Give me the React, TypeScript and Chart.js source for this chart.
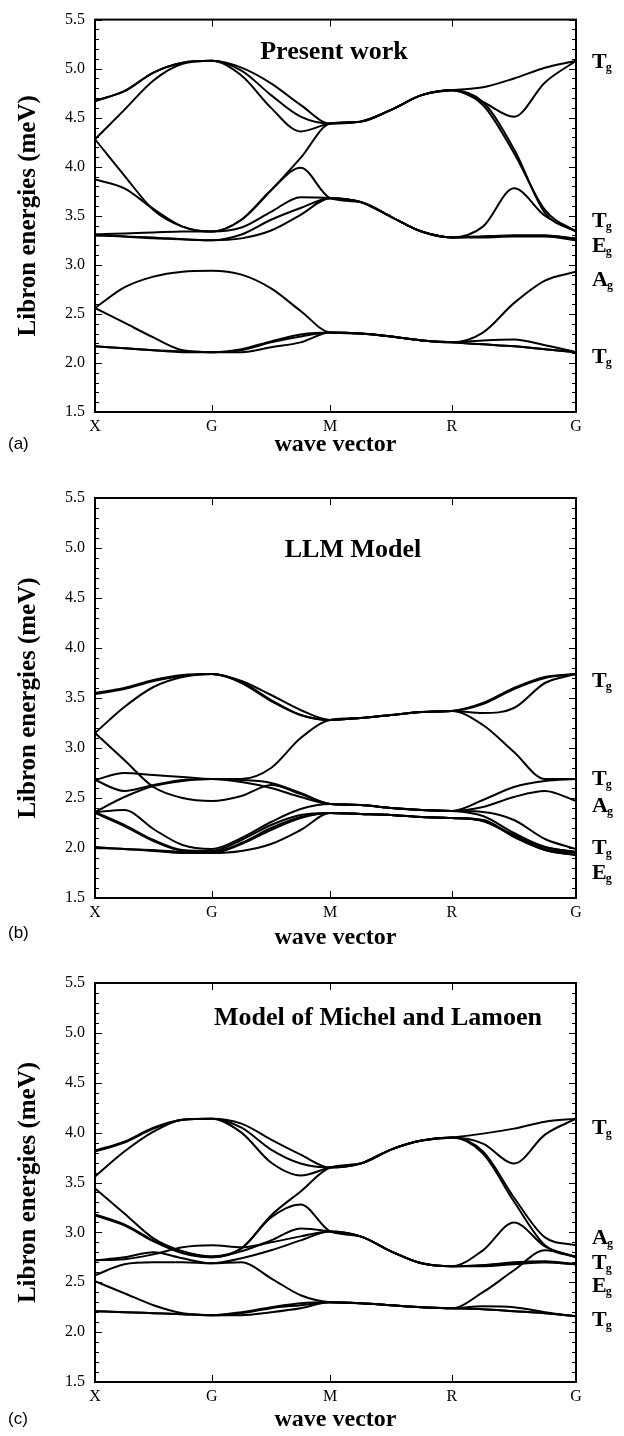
import React, { useEffect, useRef } from 'react';
import { Chart, registerables } from 'chart.js';

Chart.register(...registerables);

// High-symmetry points along the path through the cubic Brillouin zone
const SYMMETRY_POINTS = ['X', 'G', 'M', 'R', 'G'];
const SYMMETRY_POSITIONS = [0, 0.243, 0.489, 0.742, 1];

// Wave-vector sample positions along the path (four steps per segment)
const WAVE_VECTOR = [
  0, 0.061, 0.1215, 0.182, 0.243,
  0.3045, 0.366, 0.4275, 0.489,
  0.552, 0.6155, 0.679, 0.742,
  0.8065, 0.871, 0.9355, 1,
];

const ENERGY_MIN = 1.5;
const ENERGY_MAX = 5.5;

// (a) Present work: libron branches (meV) at the WAVE_VECTOR samples
const PRESENT_WORK = [
  [4.67, 4.77, 4.96, 5.06, 5.08, 5.01, 4.85, 4.63, 4.44, 4.46, 4.58, 4.73, 4.78, 4.81, 4.90, 5.01, 5.08],
  [4.67, 4.77, 4.96, 5.06, 5.08, 4.98, 4.73, 4.51, 4.44, 4.46, 4.58, 4.73, 4.78, 4.66, 4.51, 4.86, 5.08],
  [4.28, 4.58, 4.88, 5.05, 5.08, 4.93, 4.60, 4.36, 4.44, 4.46, 4.58, 4.73, 4.78, 4.63, 4.14, 3.56, 3.34],
  [4.28, 3.91, 3.56, 3.39, 3.34, 3.46, 3.76, 4.09, 4.44, 4.46, 4.58, 4.73, 4.78, 4.66, 4.18, 3.53, 3.34],
  [3.87, 3.78, 3.57, 3.39, 3.34, 3.46, 3.76, 3.99, 3.68, 3.64, 3.49, 3.34, 3.28, 3.39, 3.78, 3.50, 3.34],
  [3.31, 3.32, 3.33, 3.34, 3.34, 3.38, 3.54, 3.69, 3.68, 3.64, 3.49, 3.34, 3.28, 3.29, 3.30, 3.30, 3.27],
  [3.31, 3.29, 3.28, 3.26, 3.25, 3.31, 3.46, 3.58, 3.68, 3.64, 3.49, 3.34, 3.28, 3.29, 3.30, 3.30, 3.26],
  [3.30, 3.29, 3.27, 3.26, 3.25, 3.27, 3.35, 3.51, 3.68, 3.64, 3.49, 3.34, 3.28, 3.28, 3.29, 3.29, 3.25],
  [2.56, 2.77, 2.88, 2.93, 2.94, 2.90, 2.76, 2.53, 2.31, 2.30, 2.27, 2.23, 2.21, 2.31, 2.61, 2.84, 2.93],
  [2.56, 2.41, 2.26, 2.13, 2.11, 2.14, 2.22, 2.29, 2.31, 2.30, 2.27, 2.23, 2.21, 2.23, 2.24, 2.18, 2.11],
  [2.17, 2.15, 2.13, 2.11, 2.11, 2.13, 2.21, 2.27, 2.31, 2.30, 2.27, 2.23, 2.21, 2.19, 2.17, 2.14, 2.11],
  [2.17, 2.15, 2.13, 2.12, 2.11, 2.11, 2.16, 2.21, 2.31, 2.30, 2.27, 2.23, 2.21, 2.19, 2.17, 2.14, 2.11],
];
const PRESENT_MODES = ['T', 'T', 'E', 'A', 'T'];
const PRESENT_MODE_ENERGIES = [5.08, 3.455, 3.205, 2.855, 2.07];

// (b) LLM model
const LLM_MODEL = [
  [3.55, 3.60, 3.68, 3.73, 3.74, 3.67, 3.53, 3.38, 3.28, 3.30, 3.33, 3.36, 3.37, 3.45, 3.60, 3.71, 3.74],
  [3.54, 3.59, 3.67, 3.72, 3.74, 3.66, 3.48, 3.33, 3.28, 3.30, 3.33, 3.36, 3.37, 3.44, 3.59, 3.70, 3.74],
  [3.15, 3.41, 3.61, 3.71, 3.74, 3.65, 3.47, 3.33, 3.28, 3.30, 3.33, 3.36, 3.37, 3.35, 3.40, 3.65, 3.74],
  [2.68, 2.75, 2.73, 2.71, 2.69, 2.69, 2.80, 3.10, 3.28, 3.30, 3.33, 3.36, 3.37, 3.23, 2.96, 2.69, 2.69],
  [2.68, 2.57, 2.63, 2.68, 2.69, 2.68, 2.65, 2.55, 2.44, 2.43, 2.40, 2.38, 2.37, 2.48, 2.61, 2.67, 2.69],
  [2.36, 2.51, 2.62, 2.67, 2.69, 2.66, 2.60, 2.51, 2.44, 2.43, 2.40, 2.38, 2.37, 2.41, 2.51, 2.57, 2.47],
  [3.15, 2.88, 2.61, 2.50, 2.47, 2.52, 2.63, 2.54, 2.44, 2.43, 2.40, 2.38, 2.37, 2.36, 2.28, 2.09, 1.99],
  [2.36, 2.38, 2.19, 2.03, 1.99, 2.10, 2.26, 2.39, 2.44, 2.43, 2.40, 2.38, 2.37, 2.32, 2.15, 2.01, 1.96],
  [2.36, 2.23, 2.08, 1.98, 1.97, 2.08, 2.23, 2.33, 2.35, 2.34, 2.33, 2.31, 2.30, 2.27, 2.13, 2.01, 1.96],
  [2.35, 2.22, 2.07, 1.97, 1.96, 2.05, 2.20, 2.31, 2.35, 2.34, 2.33, 2.31, 2.30, 2.27, 2.12, 1.99, 1.95],
  [2.01, 1.99, 1.98, 1.96, 1.95, 2.04, 2.18, 2.30, 2.35, 2.34, 2.33, 2.31, 2.30, 2.28, 2.12, 1.98, 1.93],
  [2.00, 1.99, 1.97, 1.95, 1.95, 1.97, 2.04, 2.18, 2.35, 2.34, 2.33, 2.31, 2.30, 2.28, 2.11, 1.98, 1.93],
];
const LLM_MODES = ['T', 'T', 'A', 'T', 'E'];
const LLM_MODE_ENERGIES = [3.68, 2.70, 2.43, 2.01, 1.76];

// (c) Model of Michel and Lamoen
const MICHEL_LAMOEN = [
  [3.82, 3.91, 4.05, 4.13, 4.14, 4.09, 3.93, 3.78, 3.65, 3.69, 3.83, 3.92, 3.95, 3.99, 4.04, 4.11, 4.14],
  [3.81, 3.90, 4.04, 4.13, 4.14, 4.05, 3.83, 3.69, 3.65, 3.69, 3.83, 3.92, 3.95, 3.89, 3.69, 3.98, 4.14],
  [3.56, 3.81, 4.01, 4.13, 4.14, 4.00, 3.70, 3.57, 3.65, 3.69, 3.83, 3.92, 3.95, 3.81, 3.35, 2.95, 2.87],
  [3.44, 3.19, 2.94, 2.81, 2.76, 2.84, 3.17, 3.41, 3.65, 3.69, 3.83, 3.92, 3.95, 3.79, 3.31, 2.87, 2.75],
  [3.17, 3.07, 2.91, 2.79, 2.75, 2.84, 3.15, 3.28, 3.01, 2.96, 2.81, 2.69, 2.66, 2.82, 3.10, 2.86, 2.75],
  [3.18, 3.08, 2.92, 2.80, 2.75, 2.81, 2.92, 3.04, 3.01, 2.96, 2.81, 2.69, 2.66, 2.67, 2.70, 2.71, 2.68],
  [2.72, 2.73, 2.78, 2.85, 2.87, 2.85, 2.90, 2.96, 3.01, 2.96, 2.81, 2.69, 2.66, 2.67, 2.69, 2.70, 2.68],
  [2.72, 2.75, 2.80, 2.74, 2.69, 2.74, 2.82, 2.92, 3.01, 2.96, 2.81, 2.69, 2.66, 2.66, 2.68, 2.70, 2.68],
  [2.57, 2.68, 2.70, 2.70, 2.69, 2.70, 2.54, 2.37, 2.30, 2.29, 2.27, 2.25, 2.24, 2.40, 2.62, 2.82, 2.76],
  [2.51, 2.39, 2.27, 2.19, 2.17, 2.20, 2.25, 2.29, 2.30, 2.29, 2.27, 2.25, 2.24, 2.26, 2.25, 2.20, 2.16],
  [2.21, 2.20, 2.19, 2.18, 2.17, 2.19, 2.24, 2.27, 2.30, 2.29, 2.27, 2.25, 2.24, 2.23, 2.21, 2.19, 2.16],
  [2.21, 2.20, 2.19, 2.18, 2.17, 2.17, 2.20, 2.24, 2.30, 2.29, 2.27, 2.25, 2.24, 2.23, 2.21, 2.19, 2.16],
];
const MICHEL_LAMOEN_MODES = ['T', 'A', 'T', 'E', 'T'];
const MICHEL_LAMOEN_MODE_ENERGIES = [4.056, 2.954, 2.703, 2.472, 2.132];

const SERIF = '"Liberation Serif", "Times New Roman", serif';
const SANS = '"Liberation Sans", Arial, sans-serif';

const PAGE_W = 624;
const PLOT_LEFT = 95;
const PLOT_RIGHT = 576;

type PanelSpec = {
  tag: string;
  title: string;
  branches: number[][];
  modes: string[];
  modeEnergies: number[];
  canvasTop: number;
  canvasHeight: number;
  plotTop: number;
  plotBottom: number;
  titleX: number;
  titleDy: number;
  axisTitleDy: number;
  tagDy: number;
};

const PANELS: PanelSpec[] = [
  {
    tag: '(a)', title: 'Present work', branches: PRESENT_WORK,
    modes: PRESENT_MODES, modeEnergies: PRESENT_MODE_ENERGIES,
    canvasTop: 0, canvasHeight: 470, plotTop: 13, plotBottom: 412,
    titleX: 334, titleDy: 39, axisTitleDy: 33, tagDy: 32,
  },
  {
    tag: '(b)', title: 'LLM Model', branches: LLM_MODEL,
    modes: LLM_MODES, modeEnergies: LLM_MODE_ENERGIES,
    canvasTop: 470, canvasHeight: 485, plotTop: 498, plotBottom: 898,
    titleX: 353, titleDy: 59, axisTitleDy: 40, tagDy: 35,
  },
  {
    tag: '(c)', title: 'Model of Michel and Lamoen', branches: MICHEL_LAMOEN,
    modes: MICHEL_LAMOEN_MODES, modeEnergies: MICHEL_LAMOEN_MODE_ENERGIES,
    canvasTop: 955, canvasHeight: 481, plotTop: 983, plotBottom: 1382,
    titleX: 378, titleDy: 42, axisTitleDy: 38, tagDy: 37,
  },
];

// Frame, inward tick marks, titles and irreducible-representation labels
const decorPlugin = {
  id: 'decor',
  afterDatasetsDraw(chart: any, _args: any, opts: any) {
    const { ctx, chartArea: a, scales } = chart;
    const x = scales.x;
    const y = scales.y;
    const line = (x1: number, y1: number, x2: number, y2: number) => {
      ctx.beginPath();
      ctx.moveTo(x1, y1);
      ctx.lineTo(x2, y2);
      ctx.stroke();
    };
    ctx.save();
    ctx.strokeStyle = '#000';
    ctx.fillStyle = '#000';

    ctx.lineWidth = 1;
    for (let k = Math.round(ENERGY_MIN * 10); k <= Math.round(ENERGY_MAX * 10); k++) {
      const py = Math.round(y.getPixelForValue(k / 10)) + 0.5;
      const len = k % 5 === 0 ? 7 : 4;
      line(a.left, py, a.left + len, py);
      line(a.right - len, py, a.right, py);
    }
    SYMMETRY_POSITIONS.slice(1, -1).forEach((p) => {
      const px = Math.round(x.getPixelForValue(p)) + 0.5;
      line(px, a.top, px, a.top + 7);
      line(px, a.bottom, px, a.bottom - 7);
    });

    ctx.lineWidth = 2;
    ctx.strokeRect(a.left, a.top, a.right - a.left, a.bottom - a.top);

    // panel title inside the plot
    ctx.font = `bold 26px ${SERIF}`;
    ctx.textAlign = 'center';
    ctx.textBaseline = 'alphabetic';
    ctx.fillText(opts.title, opts.titleX, a.top + opts.titleDy);

    // x axis title
    ctx.font = `bold 24px ${SERIF}`;
    ctx.textBaseline = 'middle';
    ctx.fillText('wave vector', (a.left + a.right) / 2, a.bottom + opts.axisTitleDy);

    // y axis title
    ctx.save();
    ctx.translate(29, (a.top + a.bottom) / 2);
    ctx.rotate(-Math.PI / 2);
    ctx.font = `bold 25px ${SERIF}`;
    ctx.textAlign = 'center';
    ctx.textBaseline = 'middle';
    ctx.fillText('Libron energies (meV)', 0, 0);
    ctx.restore();

    // panel tag
    ctx.font = `17px ${SANS}`;
    ctx.textAlign = 'left';
    ctx.textBaseline = 'middle';
    ctx.fillText(opts.tag, 8, a.bottom + opts.tagDy);

    // symmetry labels of the zone-centre modes
    ctx.textBaseline = 'alphabetic';
    opts.modes.forEach((sym: string, i: number) => {
      const cy = y.getPixelForValue(opts.modeEnergies[i]);
      const base = cy + 7;
      ctx.font = `bold 22px ${SERIF}`;
      ctx.fillText(sym, 592, base);
      const w = ctx.measureText(sym).width;
      ctx.font = `bold 12px ${SERIF}`;
      ctx.fillText('g', 592 + w - 1, base + 3);
    });
    ctx.restore();
  },
};

function DispersionPanel({ spec }: { spec: PanelSpec }) {
  const ref = useRef<HTMLCanvasElement | null>(null);

  useEffect(() => {
    if (!ref.current) return;
    const plotTopRel = spec.plotTop - spec.canvasTop;
    const plotBottomRel = spec.plotBottom - spec.canvasTop;
    const chart = new Chart(ref.current, {
      type: 'line',
      data: {
        datasets: spec.branches.map((branch) => ({
          data: WAVE_VECTOR.map((q, i) => ({ x: q, y: branch[i] })),
          borderColor: '#000',
          borderWidth: 2,
          pointRadius: 0,
          fill: false,
          cubicInterpolationMode: 'monotone' as const,
        })),
      },
      options: {
        animation: false,
        responsive: false,
        devicePixelRatio: 1,
        layout: { padding: { left: 0, right: PAGE_W - PLOT_RIGHT, top: plotTopRel, bottom: 0 } },
        plugins: {
          legend: { display: false },
          tooltip: { enabled: false },
          decor: {
            title: spec.title,
            titleX: spec.titleX,
            titleDy: spec.titleDy,
            axisTitleDy: spec.axisTitleDy,
            tag: spec.tag,
            tagDy: spec.tagDy,
            modes: spec.modes,
            modeEnergies: spec.modeEnergies,
          },
        } as any,
        scales: {
          x: {
            type: 'linear',
            min: 0,
            max: 1,
            grid: { display: false, drawTicks: false },
            border: { display: false },
            afterBuildTicks: (scale: any) => {
              scale.ticks = SYMMETRY_POSITIONS.map((v) => ({ value: v }));
            },
            afterFit: (scale: any) => {
              scale.height = spec.canvasHeight - plotBottomRel;
            },
            ticks: {
              autoSkip: false,
              maxRotation: 0,
              padding: 5,
              color: '#000',
              font: { family: SERIF, size: 16 },
              callback: (_v: any, i: number) => SYMMETRY_POINTS[i],
            },
          },
          y: {
            type: 'linear',
            min: ENERGY_MIN,
            max: ENERGY_MAX,
            grid: { display: false, drawTicks: false },
            border: { display: false },
            afterFit: (scale: any) => {
              scale.width = PLOT_LEFT;
            },
            ticks: {
              stepSize: 0.5,
              padding: 10,
              color: '#000',
              font: { family: SERIF, size: 16 },
              callback: (v: any) => Number(v).toFixed(1),
            },
          },
        },
      },
      plugins: [decorPlugin],
    });
    return () => chart.destroy();
  }, [spec]);

  return (
    <canvas
      ref={ref}
      width={PAGE_W}
      height={spec.canvasHeight}
      style={{
        position: 'absolute',
        left: 0,
        top: spec.canvasTop,
        width: PAGE_W,
        height: spec.canvasHeight,
        display: 'block',
      }}
    />
  );
}

export default function App() {
  return (
    <div style={{ position: 'absolute', left: 0, top: 0, width: PAGE_W, height: 1436, background: '#fff' }}>
      {PANELS.map((p) => (
        <DispersionPanel key={p.tag} spec={p} />
      ))}
    </div>
  );
}
